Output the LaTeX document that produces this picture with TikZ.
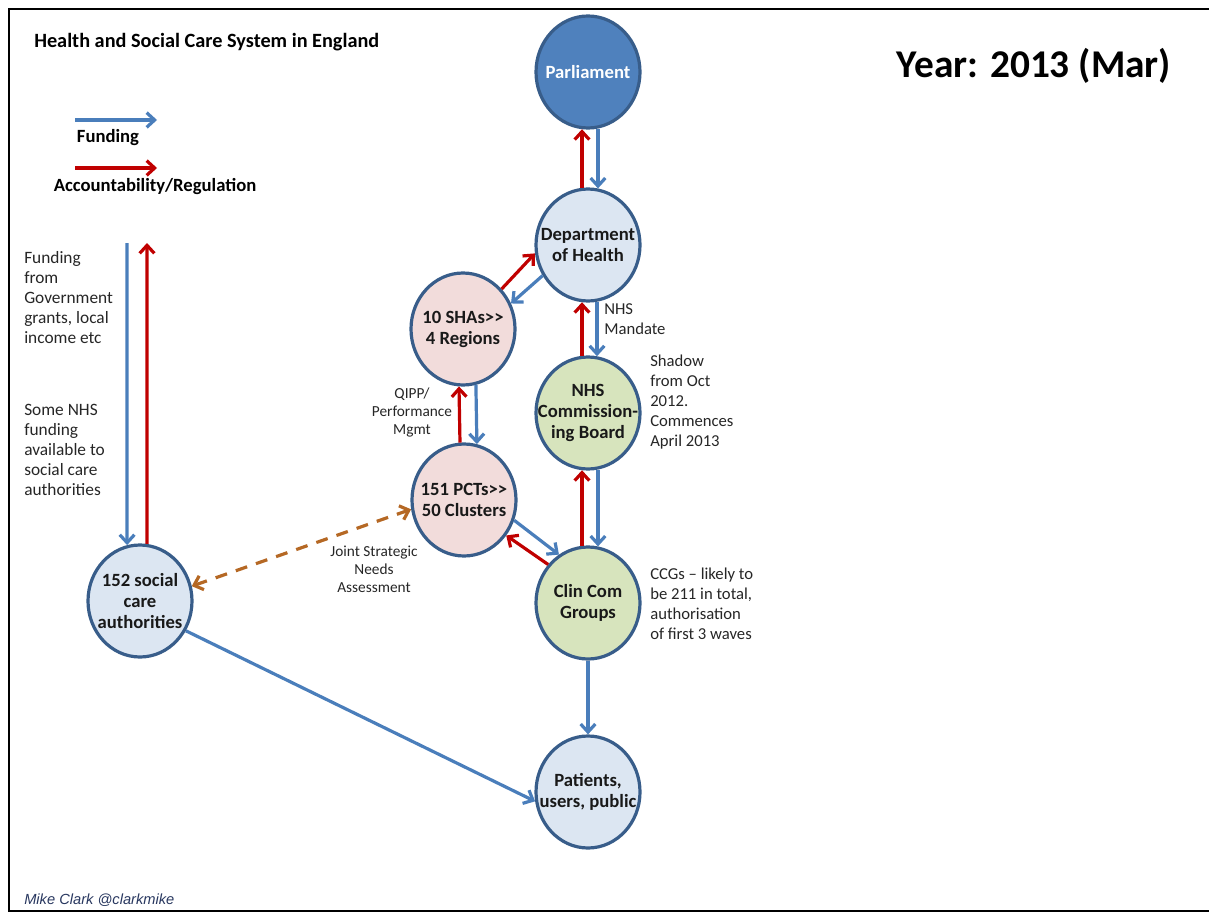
\documentclass[tikz,border=0pt]{standalone}
\usepackage{fontspec}
\setmainfont{Carlito}
\newfontfamily\creditfont{Liberation Sans}
\usetikzlibrary{shapes,arrows.meta,positioning}

\definecolor{fundblue}{RGB}{74,126,187}
\definecolor{accred}{RGB}{192,0,0}
\definecolor{orgedge}{RGB}{56,93,138}
\definecolor{parlfill}{RGB}{79,129,189}
\definecolor{bluefill}{RGB}{220,230,242}
\definecolor{pinkfill}{RGB}{242,220,219}
\definecolor{greenfill}{RGB}{215,228,189}
\definecolor{jsnabrown}{RGB}{181,104,36}
\definecolor{credit}{RGB}{40,55,95}

\begin{document}
\begin{tikzpicture}[x=0.75pt,y=-0.75pt]
\tikzstyle{org} = [ellipse, draw=orgedge, line width=2.4pt,
    minimum width=78pt, minimum height=84pt, inner xsep=-20pt, inner ysep=0pt,
    align=center, text=black!90, font=\bfseries\fontsize{14}{15.75}\selectfont]
\tikzstyle{note} = [align=left, inner sep=0pt, text=black!85,
    font=\fontsize{13}{15}\selectfont]
\tikzstyle{small} = [note, font=\fontsize{11.5}{13.5}\selectfont]
\tikzstyle{legend} = [inner sep=0pt, font=\bfseries\fontsize{14}{16}\selectfont]
\tikzstyle{fund} = [draw=fundblue, line width=2.4pt, -{Straight Barb[length=6pt,width=11pt]}]
\tikzstyle{acc} = [draw=accred, line width=2.4pt, -{Straight Barb[length=6pt,width=11pt]}]
\tikzstyle{jsna} = [draw=jsnabrown, line width=2.4pt, dash pattern=on 9pt off 7pt,
    {Straight Barb[length=6pt,width=11pt]}-{Straight Barb[length=6pt,width=11pt]}]

\useasboundingbox (0,0) rectangle (1209,913);
\draw [line width=2.2pt] (1209,9) -- (9,9) -- (9,911) -- (1209,911);

% headings and legend
\node [legend, anchor=west, font=\bfseries\fontsize{15.2}{17}\selectfont] (title) at (34,42) {Health and Social Care System in England};
\node [legend, font=\bfseries\fontsize{29.5}{32}\selectfont] (year) at (1034,66) {Year: 2013 (Mar)};
\coordinate (fundA) at (75,120);
\coordinate (fundB) at (157,120);
\coordinate (accA) at (75,168);
\coordinate (accB) at (157,168);
\path [fund] (fundA) -- (fundB);
\path [acc] (accA) -- (accB);
\node [legend] (fundlbl) at (108,138) {Funding};
\node [legend] (acclbl) at (155,187) {Accountability/Regulation};

% organisations
\node [org, fill=parlfill, text=white] (parl) at (588,72) {Parliament};
\node [org, fill=bluefill] (doh) at (588,245) {Department\\of Health};
\node [org, fill=pinkfill] (sha) at (463,329) {10 SHAs>{}>\\4 Regions};
\node [org, fill=pinkfill] (pct) at (464,500) {151 PCTs>{}>\\50 Clusters};
\node [org, fill=greenfill] (ncb) at (588,413) {NHS\\Commission-\\ing Board};
\node [org, fill=greenfill] (ccg) at (588,603) {Clin Com\\Groups};
\node [org, fill=bluefill] (pat) at (588,792) {Patients,\\users, public};
\node [org, fill=bluefill] (soc) at (140,601) {152 social\\care\\authorities};

% notes
\node [note, anchor=west, font=\fontsize{12.5}{15}\selectfont] (mandate) at (604,319) {NHS\\Mandate};
\node [note, anchor=west, font=\fontsize{12.5}{15}\selectfont] (shadow) at (650,402) {Shadow\\from Oct\\2012.\\Commences\\April 2013};
\node [note, anchor=west, font=\fontsize{12.5}{15}\selectfont] (ccgnote) at (650,604) {CCGs -- likely to\\be 211 in total,\\authorisation\\of first 3 waves};
\node [small, align=center] (qipp) at (412,412) {QIPP/\\Performance\\Mgmt};
\node [small, align=center] (jsnalbl) at (374,569) {Joint Strategic\\Needs\\Assessment};
\node [note, anchor=west] (govfund) at (24,298) {Funding\\from\\Government\\grants, local\\income etc};
\node [note, anchor=west] (nhsfund) at (24,450) {Some NHS\\funding\\available to\\social care\\authorities};
\node [anchor=west, inner sep=0pt, text=credit, font=\creditfont\itshape\fontsize{11}{13}\selectfont] (author) at (24,900) {Mike Clark @clarkmike};

% funding and accountability
\path [acc] (doh.96) -- (parl.264);
\path [fund] (parl.280) -- (doh.80);
\path [acc] (sha.46) -- (doh.189);
\path [fund] (doh.214) -- (sha.28);
\path [acc] (ncb.96) -- (doh.264);
\path [fund] (doh.279) -- (ncb.81);
\path [acc] (pct.94) -- (sha.266);
\path [fund] (sha.283) -- (pct.77);
\path [acc] (ccg.96) -- (ncb.264);
\path [fund] (ncb.280) -- (ccg.80);
\path [fund] (pct.338) -- (ccg.121);
\path [acc] (ccg.136) -- (pct.320);
\path [fund] (ccg.south) -- (pat.north);
\path [fund] (soc.327) -- (pat.190);
\path [jsna] (soc.16) -- (pct.190);

\coordinate (soctop) at (127,243);
\coordinate (acctop) at (147,243);
\path [fund] (soctop) -- (soc.103);
\path [acc] (soc.83) -- (acctop);

\end{tikzpicture}
\end{document}
